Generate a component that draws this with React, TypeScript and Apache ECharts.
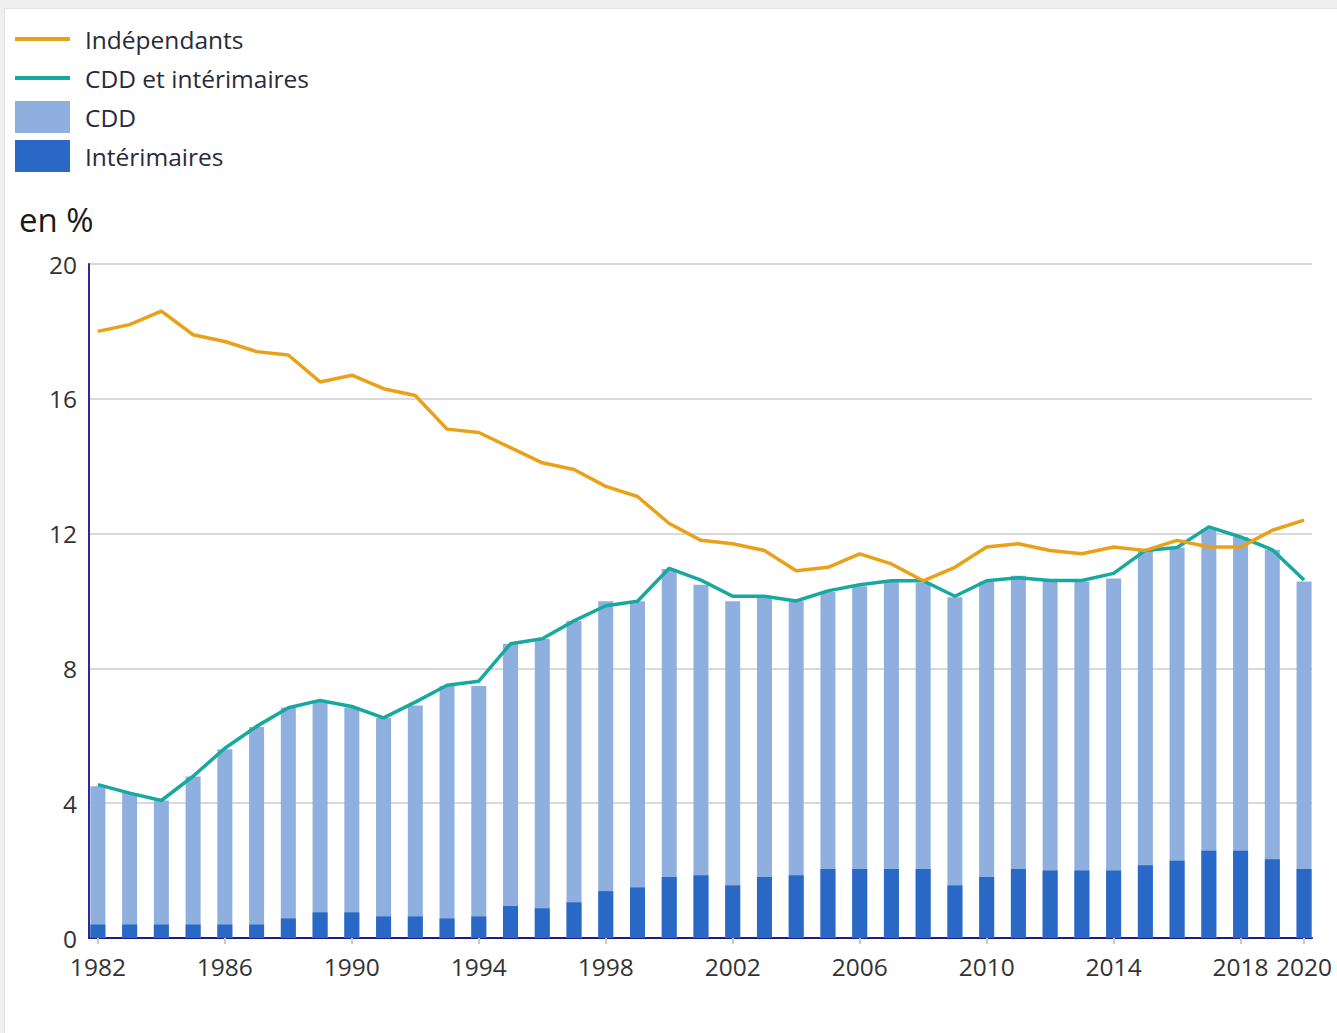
import React, { useEffect, useRef } from "react";
import * as echarts from "echarts";

const years = [
  1982, 1983, 1984, 1985, 1986, 1987, 1988, 1989, 1990, 1991, 1992, 1993, 1994,
  1995, 1996, 1997, 1998, 1999, 2000, 2001, 2002, 2003, 2004, 2005, 2006, 2007,
  2008, 2009, 2010, 2011, 2012, 2013, 2014, 2015, 2016, 2017, 2018, 2019, 2020,
];

const independants = [
  18.0, 18.2, 18.6, 17.9, 17.7, 17.4, 17.3, 16.5, 16.7, 16.3, 16.1, 15.1, 15.0,
  14.55, 14.1, 13.9, 13.4, 13.1, 12.3, 11.8, 11.7, 11.5, 10.9, 11.0, 11.4, 11.1,
  10.6, 11.0, 11.6, 11.7, 11.5, 11.4, 11.6, 11.5, 11.8, 11.6, 11.6, 12.1, 12.4,
];

const cddInterimTotal = [
  4.55, 4.3, 4.08, 4.8, 5.63, 6.28, 6.83, 7.05, 6.87, 6.53, 7.0, 7.5, 7.62,
  8.73, 8.88, 9.41, 9.86, 9.99, 10.97, 10.62, 10.14, 10.14, 10.0, 10.3, 10.48, 10.6,
  10.6, 10.14, 10.6, 10.69, 10.61, 10.61, 10.82, 11.5, 11.59, 12.2, 11.9, 11.52, 10.62,
];

const interimaires = [
  0.4, 0.4, 0.4, 0.4, 0.4, 0.4, 0.58, 0.76, 0.76, 0.64, 0.64, 0.58, 0.64,
  0.95, 0.88, 1.06, 1.39, 1.5, 1.81, 1.86, 1.56, 1.81, 1.86, 2.05, 2.05, 2.05,
  2.05, 1.56, 1.81, 2.05, 2.0, 2.0, 2.0, 2.16, 2.29, 2.59, 2.59, 2.34, 2.05,
];

const cdd = [
  4.1, 3.9, 3.68, 4.39, 5.2, 5.86, 6.26, 6.26, 6.08, 5.89, 6.26, 6.9, 6.84,
  7.78, 7.99, 8.35, 8.6, 8.49, 9.14, 8.62, 8.43, 8.3, 8.13, 8.22, 8.39, 8.53,
  8.49, 8.55, 8.77, 8.7, 8.64, 8.58, 8.67, 9.34, 9.3, 9.55, 9.31, 9.18, 8.53,
];

const xLabels = [1982, 1986, 1990, 1994, 1998, 2002, 2006, 2010, 2014, 2018, 2020];
const yTicks = [0, 4, 8, 12, 16, 20];

const FONT = "'Open Sans', 'Noto Sans', sans-serif";
const LINE_ICON = "path://M0,0L0.01,0Z M0,14L55,14L55,18L0,18Z M0,32L0.01,32Z";

export default function App() {
  const ref = useRef<HTMLDivElement>(null);

  useEffect(() => {
    if (!ref.current) return;
    const chart = echarts.init(ref.current, null, { renderer: "svg" });
    const pair = (arr: number[]) => years.map((y, i) => [y, arr[i]]);
    // Stacked top of the light bar = CDD stacked on Intérimaires
    const cddStacked = years.map((y, i) => [y, +(cdd[i] + interimaires[i]).toFixed(3)]);
    chart.setOption({
      animation: false,
      backgroundColor: "#ffffff",
      textStyle: { fontFamily: FONT },
      legend: {
        orient: "vertical",
        left: 10,
        top: 14,
        padding: 0,
        itemWidth: 55,
        itemHeight: 32,
        itemGap: 7,
        selectedMode: false,
        textStyle: { fontSize: 24.5, color: "#2a2a3a", fontFamily: FONT, padding: [0, 0, 0, 10] },
        data: [
          { name: "Indépendants", icon: LINE_ICON },
          { name: "CDD et intérimaires", icon: LINE_ICON },
          { name: "CDD", icon: "rect" },
          { name: "Intérimaires", icon: "rect" },
        ],
      },
      graphic: [
        {
          type: "text",
          left: 14,
          top: 194,
          style: { text: "en %", fontSize: 33, fill: "#1a1a1a", fontFamily: FONT },
        },
      ],
      grid: { left: 84, right: 25, top: 255, bottom: 95, containLabel: false },
      xAxis: {
        type: "value",
        min: 1981.72,
        max: 2020.25,
        splitLine: { show: false },
        axisLine: { show: true, lineStyle: { color: "#1c1c8a", width: 2 } },
        axisTick: {
          show: true,
          customValues: xLabels,
          length: 6,
          lineStyle: { color: "#c8c8c8", width: 2 },
        },
        axisLabel: {
          customValues: xLabels,
          fontSize: 24.5,
          color: "#333333",
          margin: 16,
          fontFamily: FONT,
          formatter: (v: number) => String(v),
        },
      },
      yAxis: {
        type: "value",
        min: 0,
        max: 20,
        interval: 4,
        axisLine: { show: true, lineStyle: { color: "#2a2a9a", width: 2 } },
        axisTick: { show: false },
        splitLine: { show: true, lineStyle: { color: "#cccccc", width: 1.5 } },
        axisLabel: {
          customValues: yTicks,
          fontSize: 24.5,
          color: "#333333",
          margin: 12,
          fontFamily: FONT,
        },
      },
      series: [
        {
          name: "CDD",
          type: "bar",
          barWidth: 15,
          barGap: "-100%",
          itemStyle: { color: "#8fb0df" },
          data: cddStacked,
          z: 2,
        },
        {
          name: "Intérimaires",
          type: "bar",
          barWidth: 15,
          barGap: "-100%",
          itemStyle: { color: "#2a68c6" },
          data: pair(interimaires),
          z: 3,
        },
        {
          name: "CDD et intérimaires",
          type: "line",
          symbol: "none",
          lineStyle: { color: "#17a9a0", width: 3.5 },
          itemStyle: { color: "#17a9a0" },
          data: pair(cddInterimTotal),
          z: 4,
        },
        {
          name: "Indépendants",
          type: "line",
          symbol: "none",
          lineStyle: { color: "#e9a11a", width: 3.5 },
          itemStyle: { color: "#e9a11a" },
          data: pair(independants),
          z: 5,
        },
      ],
    });
    return () => chart.dispose();
  }, []);

  return (
    <div style={{ position: "fixed", left: 0, top: 0, width: 1337, height: 1033, background: "#efefef" }}>
      <div
        style={{
          position: "absolute",
          left: 4,
          top: 8,
          width: 1333,
          height: 1025,
          background: "#ffffff",
          borderTop: "1px solid #e2e2e2",
          borderLeft: "1px solid #e2e2e2",
          boxSizing: "border-box",
        }}
      >
        <div ref={ref} style={{ position: "absolute", left: 0, top: 0, width: 1332, height: 1024 }} />
      </div>
    </div>
  );
}
